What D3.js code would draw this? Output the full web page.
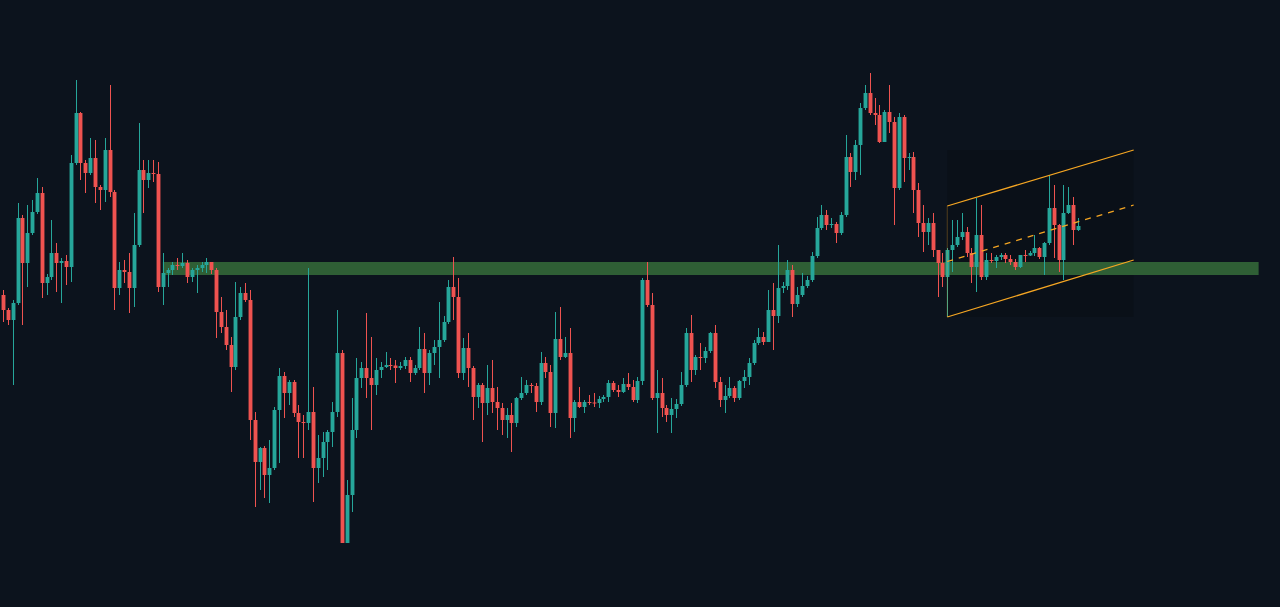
<!DOCTYPE html>
<html>
<head>
<meta charset="utf-8">
<script src="https://cdn.jsdelivr.net/npm/d3@7"></script>
<style>
  html, body { margin: 0; padding: 0; background: #0c131d; }
  #chart { width: 1280px; height: 607px; }
</style>
</head>
<body>
<div id="chart"></div>
<script>
// candle data (open of each bar = previous close)
var firstOpen = 305;

var closes = [
  290, 280, 297, 382, 337, 367, 388, 407, 317, 323, 347, 337, 339, 333, 437, 487, 437, 427, 442, 413,
  410, 450, 408, 312, 330, 328, 312, 355, 430, 420, 427, 426, 313, 327, 330, 335, 334, 337, 323, 330,
  332, 335, 338, 330, 288, 273, 255, 233, 283, 307, 300, 180, 138, 152, 125, 132, 190, 224, 207, 218,
  187, 178, 177, 188, 132, 142, 158, 168, 188, 247, 57, 105, 170, 222, 232, 222, 215, 230, 233, 235,
  234.5, 232, 234, 240, 227, 232, 251, 227, 247, 253, 260, 278, 313, 303, 227, 252, 232, 203, 215, 197,
  212, 198, 192, 180, 185, 177, 202, 207, 215, 214, 198, 237, 228, 187, 261, 243, 247, 182, 198, 193,
  198, 197.5, 197, 201, 203, 217, 210, 208, 216, 213, 200, 219, 320, 295, 202, 207, 192, 185, 191, 196,
  215, 267, 230, 243, 242, 249, 267, 218, 200, 204, 212, 202, 219, 223, 237, 257, 263, 258, 290, 284,
  312, 314, 330, 296, 305, 314, 320, 344, 372, 385, 375, 376, 367, 385, 443, 428, 455, 492, 507, 487,
  485, 458, 488, 478, 412, 483, 442, 443, 410, 377, 368, 377, 350, 337, 323, 350, 355, 363, 368, 347,
  333, 365, 323, 340, 339, 343, 345, 341, 338, 333, 345, 344.5, 347, 352, 343, 357, 392, 375, 340, 387,
  395, 370, 374
];

var highs = [
  310, 292, 300, 397, 385, 395, 400, 422, 413, 326, 380, 357, 342, 345, 445, 520, 488, 440, 462, 460,
  415, 462, 515, 410, 338, 340, 347, 387, 477, 440, 440, 440, 438, 347, 332, 338, 342, 347, 340, 332,
  335, 338, 342, 335, 332, 303, 290, 263, 318, 313, 317, 310, 188, 153, 154, 160, 193, 232, 228, 220,
  220, 195, 185, 332, 213, 165, 168, 170, 198, 290, 250, 120, 202, 242, 238, 287, 263, 242, 238, 248,
  242, 240, 238, 243, 243, 235, 273, 267, 250, 260, 298, 284, 320, 343, 322, 262, 267, 234, 217, 217,
  235, 240, 213, 197, 192, 197, 203, 223, 220, 217, 217, 248, 243, 235, 288, 293, 263, 272, 200, 213,
  200, 205, 207, 204, 205, 220, 219, 215, 222, 227, 220, 223, 322, 338, 307, 230, 222, 195, 202, 201,
  228, 272, 285, 245, 257, 253, 268, 275, 223, 215, 223, 214, 220, 230, 242, 260, 272, 268, 310, 317,
  355, 318, 340, 335, 313, 327, 324, 348, 383, 395, 390, 382, 378, 388, 465, 447, 460, 497, 515, 527,
  502, 495, 490, 515, 483, 487, 485, 447, 448, 417, 395, 382, 387, 350, 347, 352, 380, 380, 387, 373,
  352, 402, 395, 347, 347, 345, 347, 347, 345, 341, 345, 350, 349, 365, 353, 358, 425, 415, 376, 415,
  413, 403, 382
];

var lows = [
  278, 275, 215, 295, 275, 313, 365, 386, 302, 305, 320, 308, 297, 315, 318, 435, 420, 407, 425, 397,
  390, 398, 403, 290, 305, 317, 287, 293, 353, 387, 412, 418, 308, 295, 313, 325, 330, 332, 317, 318,
  307, 328, 327, 326, 262, 267, 250, 208, 230, 280, 298, 160, 93, 110, 102, 97, 130, 137, 182, 195,
  183, 142, 142, 170, 98, 117, 123, 130, 153, 183, 57, 57, 88, 162, 212, 202, 170, 205, 222, 232,
  230, 217, 230, 231, 218, 225, 230, 207, 215, 235, 222, 258, 276, 280, 222, 220, 213, 180, 192, 158,
  185, 187, 170, 165, 162, 148, 173, 200, 205, 207, 188, 195, 222, 173, 172, 240, 242, 162, 168, 192,
  187, 195, 193, 192, 198, 198, 208, 203, 207, 210, 198, 197, 215, 293, 200, 167, 183, 178, 167, 182,
  194, 213, 218, 225, 230, 237, 247, 212, 193, 187, 202, 198, 200, 212, 215, 235, 255, 255, 258, 250,
  277, 307, 310, 283, 293, 303, 312, 318, 342, 370, 370, 372, 357, 365, 383, 413, 420, 425, 490, 485,
  475, 457, 458, 467, 375, 410, 418, 430, 387, 363, 348, 355, 343, 303, 313, 283, 328, 353, 360, 343,
  317, 308, 320, 320, 337, 332, 340, 337, 335, 330, 332, 338, 344, 344, 341, 325, 355, 342, 328, 320,
  386, 355, 369
];

// horizontal support zone (price band) and where it starts / ends in bar units
var zoneTop = 338, zoneBottom = 325;
var zoneFrom = 33, zoneTo = 259.3;

// parallel channel: [bar index, price] for the two ends of each line
var channelUpper = [[195, 394], [233.5, 450]];
var channelLower = [[195, 283], [233.5, 340]];

var width = 1280, height = 607;
var upColor = '#26a69a', downColor = '#ef5350';

var candles = closes.map(function (c, i) {
  return {
    i: i,
    open: i === 0 ? firstOpen : closes[i - 1],
    close: c,
    high: highs[i],
    low: lows[i]
  };
});

var svg = d3.select('#chart')
  .append('svg')
  .attr('width', width)
  .attr('height', height);

svg.append('rect')
  .attr('width', width)
  .attr('height', height)
  .attr('fill', '#0c131d');

var x = d3.scaleLinear().domain([0, candles.length - 1]).range([3, 1078]);
var y = d3.scaleLinear().domain([0, 600]).range([600, 0]);
var step = x(1) - x(0);
var bodyW = step * 0.8;

var mid = [
  [channelUpper[0][0], (channelUpper[0][1] + channelLower[0][1]) / 2],
  [channelUpper[1][0], (channelUpper[1][1] + channelLower[1][1]) / 2]
];

// channel background (bounding box of the drawing)
var chTop = d3.max([channelUpper[0][1], channelUpper[1][1]]);
var chBottom = d3.min([channelLower[0][1], channelLower[1][1]]);
svg.append('rect')
  .attr('x', x(channelUpper[0][0]))
  .attr('y', y(chTop))
  .attr('width', x(channelUpper[1][0]) - x(channelUpper[0][0]))
  .attr('height', y(chBottom) - y(chTop))
  .attr('fill', 'rgba(0,0,0,0.15)');

// support zone
svg.append('rect')
  .attr('x', x(zoneFrom))
  .attr('y', y(zoneTop))
  .attr('width', x(zoneTo) - x(zoneFrom))
  .attr('height', y(zoneBottom) - y(zoneTop))
  .attr('fill', '#2f5f35');

// candles
var g = svg.append('g');

g.selectAll('line.wick')
  .data(candles)
  .enter()
  .append('line')
  .attr('class', 'wick')
  .attr('x1', function (d) { return Math.round(x(d.i)) + 0.5; })
  .attr('x2', function (d) { return Math.round(x(d.i)) + 0.5; })
  .attr('y1', function (d) { return y(d.high); })
  .attr('y2', function (d) { return y(d.low); })
  .attr('stroke', function (d) { return d.close >= d.open ? upColor : downColor; })
  .attr('stroke-width', 1);

g.selectAll('rect.body')
  .data(candles)
  .enter()
  .append('rect')
  .attr('class', 'body')
  .attr('x', function (d) { return Math.round(x(d.i)) + 0.5 - bodyW / 2; })
  .attr('y', function (d) { return y(Math.max(d.open, d.close)); })
  .attr('width', bodyW)
  .attr('height', function (d) { return Math.max(1, Math.abs(y(d.open) - y(d.close))); })
  .attr('fill', function (d) { return d.close >= d.open ? upColor : downColor; });

// channel lines
var chan = svg.append('g');
[channelUpper, channelLower].forEach(function (l) {
  chan.append('line')
    .attr('x1', x(l[0][0])).attr('y1', y(l[0][1]))
    .attr('x2', x(l[1][0])).attr('y2', y(l[1][1]))
    .attr('stroke', '#f5a623')
    .attr('stroke-width', 1.3);
});
chan.append('line')
  .attr('x1', x(mid[0][0])).attr('y1', y(mid[0][1]))
  .attr('x2', x(mid[1][0])).attr('y2', y(mid[1][1]))
  .attr('stroke', '#f5a623')
  .attr('stroke-width', 1.3)
  .attr('stroke-dasharray', '6,6');
chan.append('line')
  .attr('x1', x(channelUpper[0][0])).attr('y1', y(channelUpper[0][1]))
  .attr('x2', x(channelLower[0][0])).attr('y2', y(channelLower[0][1]))
  .attr('stroke', 'rgba(245,166,35,0.3)')
  .attr('stroke-width', 1);
</script>
</body>
</html>
